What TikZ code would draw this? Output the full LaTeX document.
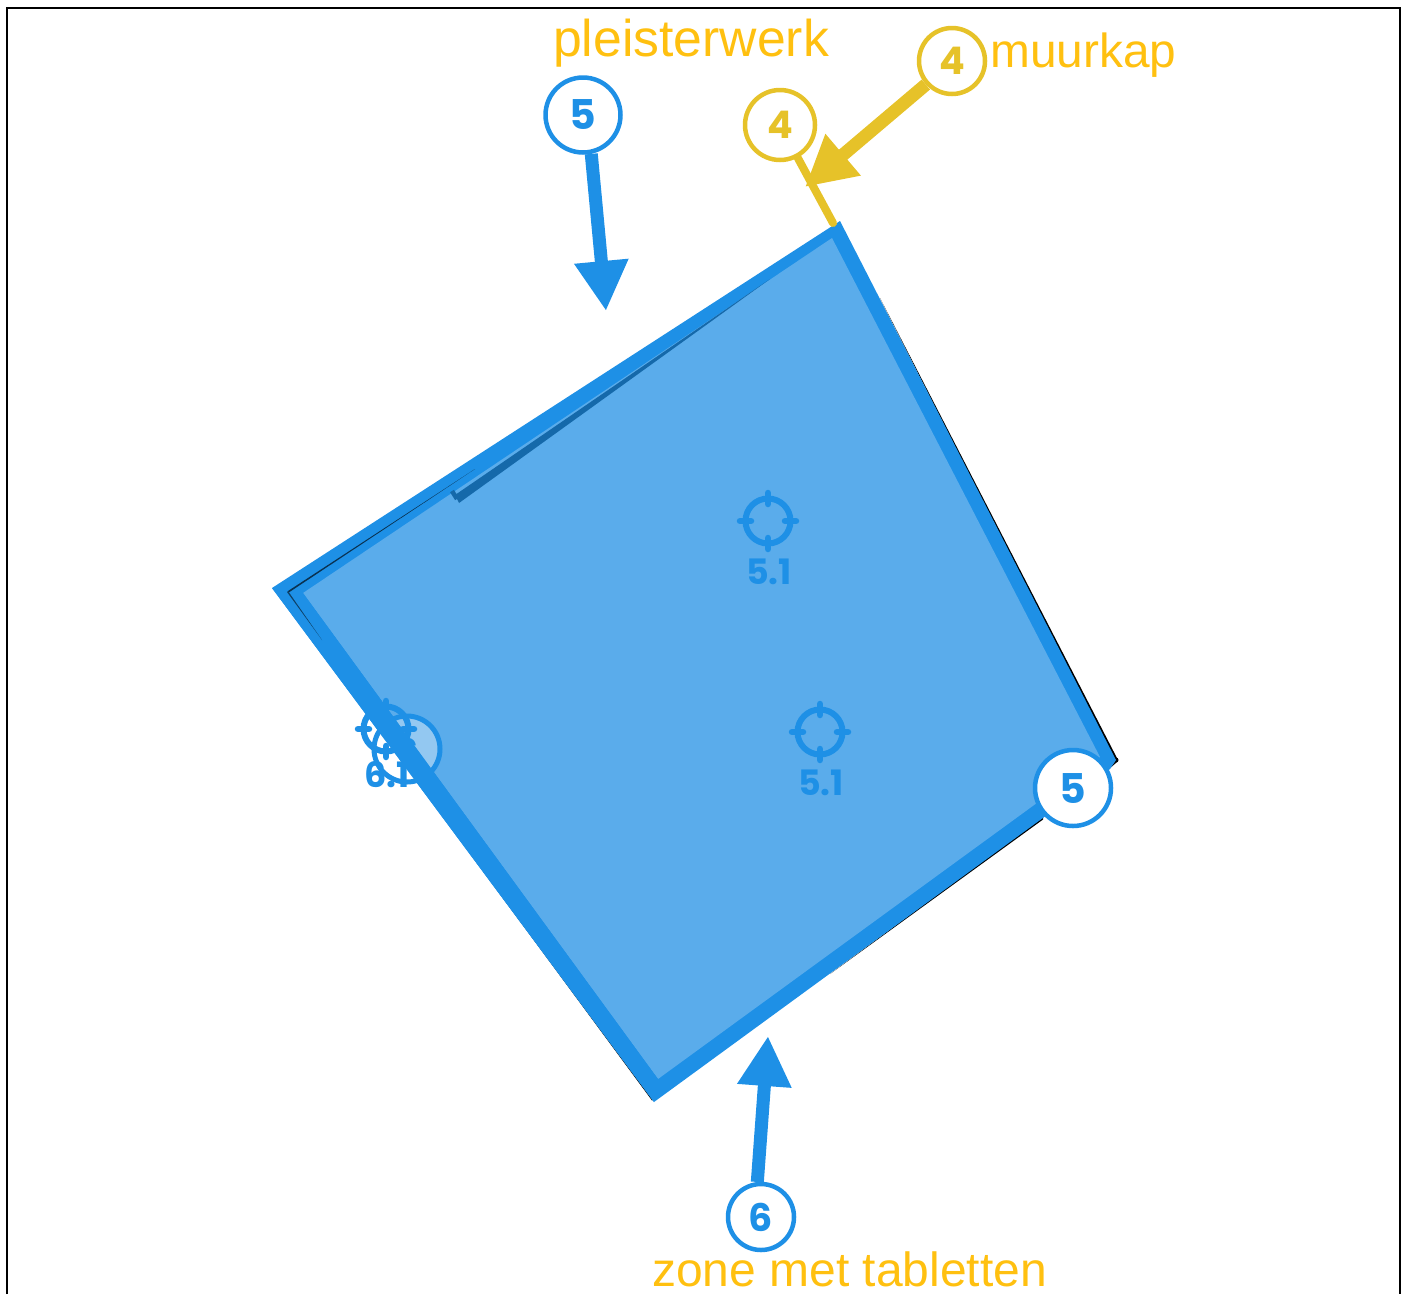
\documentclass[tikz,border=0pt]{standalone}
\usepackage{fontspec}
\setmainfont{Liberation Sans}
\newfontfamily\digitfont[BoldFont={Poppins Bold}]{Poppins}
\usetikzlibrary{arrows.meta}
\definecolor{zoneblue}{HTML}{1E90E6}
\definecolor{zonefill}{HTML}{5AACEB}
\definecolor{zonedark}{HTML}{1569AA}
\definecolor{capyellow}{HTML}{E6C229}
\definecolor{labelorange}{HTML}{FFC010}
\tikzset{
  badge/.style={circle, draw=#1, text=#1, fill=white, line width=4.5pt, inner sep=0pt,
    font=\digitfont\bfseries\fontsize{41}{41}\selectfont},
  smallbadge/.style={badge=#1, font=\digitfont\bfseries\fontsize{38}{38}\selectfont},
  caption/.style={text=labelorange, inner sep=0pt, anchor=base},
  targetmark/.style={zoneblue, line width=6pt},
  targetlabel/.style={text=zoneblue, inner sep=0pt, font=\digitfont\bfseries\fontsize{35}{35}\selectfont},
  bigarrow/.style={#1, line width=13pt, -{Triangle[length=50pt,width=51pt]}},
}
\begin{document}
\begin{tikzpicture}[x=1pt, y=-1pt]
  \useasboundingbox (0,0) rectangle (1405,1294);
  % frame, open at the bottom
  \draw[line width=2.5pt] (7,1294) -- (7,8) -- (1400,8) -- (1400,1294);
  % black sheet under the zone
  \fill[black] (460,840) -- (652,1100.5) -- (656,1098) -- cycle;
  \fill[black] (880,298) -- (1118,760) -- (1114,762) -- cycle;
  \fill[black] (1043,819.5) -- (830,974) -- (1043,816) -- cycle;
  \draw[black, line width=1.5pt] (1117,761) -- (1108,769);
  \fill[black] (1116,760) circle (2.5);
  % zone
  \fill[zoneblue] (272,588) -- (840,221) -- (1116,760) -- (1110,769) -- (654,1102) -- cycle;
  \fill[zonefill] (303,593) -- (832,238) -- (1100,757) -- (658,1079) -- cycle;
  \fill[zonedark] (455,495) -- (770,279) -- (459,503) -- cycle;
  \draw[zonedark, line width=4.5pt] (457,499) -- (452,491);
  % targets
  \coordinate (target-a) at (768,521);
  \coordinate (target-b) at (820,732);
  \coordinate (target-c) at (386,729);
  \fill[white, opacity=.35] (407,749) circle (33);
  \foreach \pos in {target-a, target-b, target-c} {
    \draw[targetmark] (\pos) circle (22.5);
    \foreach \ang in {0,90,180,270}
      \draw[zoneblue, line width=6.5pt, line cap=round] (\pos) ++(\ang:17) -- ++(\ang:11);
  }
  \node[targetlabel] (label-a) at (769,572) {5.1};
  \node[targetlabel] (label-b) at (821,783) {5.1};
  \node[targetlabel] (label-c) at (387,775) {6.1};
  % hidden badge on the wall
  \draw[zoneblue, line width=5pt] (407,749) circle (33);
  \node[targetlabel] (label-d) at (408,752) {6};
  \fill[zoneblue] (272,588) -- (303,593) -- (658,1079) -- (654,1102) -- cycle;
  \fill[black!65!zoneblue] (288,591) -- (475,469) -- (288,593) -- cycle;
  \fill[black!55!zoneblue] (288,591) -- (322,640) -- (287,592) -- cycle;
  % captions
  \node[caption, font=\fontsize{51.7}{52}\selectfont] (cap-plaster) at (691,56) {pleisterwerk};
  \node[caption, font=\fontsize{47.8}{48}\selectfont, anchor=base west] (cap-coping) at (990,67) {muurkap};
  \node[caption, font=\fontsize{48}{48}\selectfont] (cap-tablet) at (849.5,1286) {zone met tabletten};
  % badges and arrows
  \coordinate (tip-plaster) at (606,311);
  \coordinate (tip-tablet) at (768,1036);
  \coordinate (tip-coping) at (805,187);
  \coordinate (wall-top) at (833,223);
  \node[badge=zoneblue, minimum size=75pt] (badge-plaster) at (583,115) {5};
  \node[smallbadge=capyellow, minimum size=70pt] (badge-wall) at (780,125) {4};
  \node[smallbadge=capyellow, minimum size=66pt] (badge-coping) at (952,61) {4};
  \node[badge=zoneblue, minimum size=76pt] (badge-corner) at (1073,788) {5};
  \node[smallbadge=zoneblue, minimum size=66pt] (badge-tablet) at (761,1217) {6};
  \draw[capyellow, line width=8pt, line cap=round] (badge-wall) -- (wall-top);
  \draw[bigarrow=zoneblue] (badge-plaster.-78) -- (tip-plaster);
  \draw[bigarrow=zoneblue] (badge-tablet.96) -- (tip-tablet);
  \draw[bigarrow=capyellow] (badge-coping.222) -- (tip-coping);
\end{tikzpicture}
\end{document}
